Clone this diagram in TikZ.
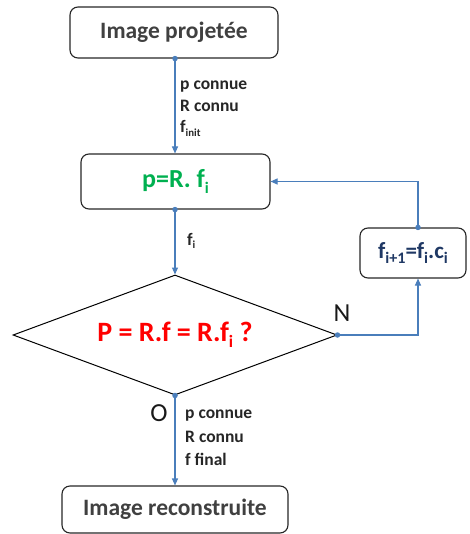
\documentclass[tikz,border=0pt]{standalone}
\usepackage{fontspec}
\setmainfont{Carlito}
\usetikzlibrary{shapes.geometric,arrows.meta}
\definecolor{arr}{HTML}{4A7EBB}
\definecolor{txtgray}{HTML}{404040}
\definecolor{grn}{HTML}{00B050}
\definecolor{rd}{HTML}{FF0000}
\definecolor{dblue}{HTML}{1F3864}
\newcommand\dn[1]{\raisebox{-0.22em}{\scalebox{0.62}{#1}}}
\newcommand\dnb[1]{\raisebox{-0.24em}{\scalebox{0.7}{#1}}}
\begin{document}
\begin{tikzpicture}[x=1pt,y=-1pt,
  boxst/.style={draw=black!85,line width=1.1pt,rounded corners=8pt,inner sep=0pt},
  conn/.style={draw=arr,line width=1.1pt,-{Triangle[length=7pt,width=6pt]}},
  lbl/.style={font=\fontsize{17.5}{22.5}\selectfont\bfseries,text=black!85,anchor=base west,inner sep=0pt},
  dotst/.style={circle,fill=arr,inner sep=0pt,minimum size=5.5pt}]
\useasboundingbox (0,0) rectangle (469,534);
\node[boxst,minimum width=208pt,minimum height=51pt,font=\fontsize{23.5}{28}\selectfont\bfseries,text=txtgray] (b1) at (174,32.5) {Image projetée};
\node[boxst,minimum width=189pt,minimum height=55pt,font=\fontsize{26}{30}\selectfont\bfseries,text=grn] (b2) at (175.5,181.5) {p=R. f\dn{i}};
\node[draw=black,line width=1pt,diamond,aspect=2.7,inner sep=0pt,minimum width=324pt,minimum height=120pt,font=\fontsize{28}{32}\selectfont\bfseries,text=rd] (d) at (175,335) {P = R.f = R.f\dn{i} ?};
\node[boxst,minimum width=106pt,minimum height=50pt,font=\fontsize{23}{27}\selectfont\bfseries,text=dblue] (b3) at (413,253) {f\dnb{i+1}=f\dnb{i}.c\dnb{i}};
\node[boxst,minimum width=226pt,minimum height=47pt,font=\fontsize{23.5}{28}\selectfont\bfseries,text=txtgray] (b4) at (175,509.5) {Image reconstruite};
% connectors
\coordinate (c3) at (418,0);
\draw[conn] (b1.south -| d.north) -- (b2.north -| d.north);
\node[dotst] (s1) at (b1.south -| d.north) {};
\draw[conn] (b2.south -| d.north) -- (d.north);
\node[dotst] (s2) at (b2.south -| d.north) {};
\draw[conn] (d.east) -- (d.east -| c3) -- (b3.south -| c3);
\node[dotst] (s3) at (d.east) {};
\draw[conn] (b3.north -| c3) -- (c3 |- b2.east) -- (b2.east);
\node[dotst] (s4) at (b3.north -| c3) {};
\draw[conn] (d.south) -- (b4.north -| d.south);
\node[dotst] (s5) at (d.south) {};
% labels
\node[lbl] (l1a) at (180,90) {p connue};
\node[lbl] (l1b) at (180,112) {R connu};
\node[lbl] (l1c) at (180,133) {f\dn{init}};
\node[lbl] (l2) at (187,245) {f\dn{i}};
\node[lbl] (l3a) at (185,418) {p connue};
\node[lbl] (l3b) at (185,442) {R connu};
\node[lbl] (l3c) at (185,465) {f final};
\node[font=\fontsize{26}{30}\selectfont,text=black!90,inner sep=0pt] (n) at (342,313) {N};
\node[font=\fontsize{26}{30}\selectfont,text=black!90,inner sep=0pt] (o) at (159,413) {O};
\end{tikzpicture}
\end{document}
